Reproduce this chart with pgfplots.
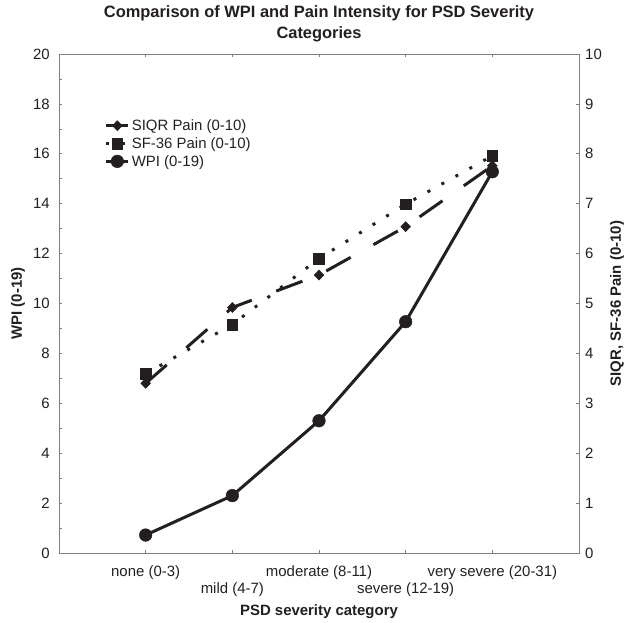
\documentclass[border=0pt]{standalone}
\usepackage{fontspec}
\setmainfont{Liberation Sans}
\usepackage{pgfplots}
\pgfplotsset{compat=1.18}
\definecolor{ink}{HTML}{231F20}
\definecolor{axisgray}{HTML}{808080}

\pgfplotsset{
  base/.style={
    scale only axis, width=520bp, height=499bp,
    xmin=0, xmax=6,
    axis line style={axisgray, line width=0.8pt},
    tick style={axisgray, line width=0.6pt},
    major tick length=3bp, minor tick length=3bp,
    ticklabel style={font=\fontsize{15}{17}\selectfont, text=ink},
    /pgf/number format/assume math mode=true,
  },
  wpi/.style={ink, line width=3bp, mark=*, mark size=6.3bp,
    mark options={solid, line width=0.5bp}},
  siqr/.style={ink, line width=3bp, dash pattern=on 28bp off 26bp,
    mark=diamond*, mark size=5bp,
    mark options={solid, line width=0.5bp, xscale=1.3}},
  sf/.style={ink, line width=3bp, dash pattern=on 3bp off 13bp,
    mark=square*, mark size=5.3bp,
    mark options={solid, line width=0.5bp}},
}

\begin{document}
\begin{tikzpicture}
% left axis: WPI
\begin{axis}[base,
  ymin=0, ymax=20,
  ytick={0,2,...,20}, minor ytick={1,3,...,19},
  ytick pos=left, xtick pos=both, tick align=inside,
  xtick={1,2,3,4,5},
  xticklabels={{\strut none (0-3)},{\strut\\\strut mild (4-7)},{\strut moderate (8-11)},{\strut\\\strut severe (12-19)},{\strut very severe (20-31)}},
  xticklabel style={align=center, anchor=north, inner sep=0pt, yshift=-11.5bp},
  yticklabel style={anchor=east, inner sep=0pt, xshift=-9bp},
  xlabel={PSD severity category},
  ylabel={WPI (0-19)},
  every axis x label/.style={at={(rel axis cs:0.5,0)}, anchor=center, yshift=-59bp,
    font=\bfseries\fontsize{15}{17}\selectfont, text=ink},
  every axis y label/.style={at={(rel axis cs:0,0.5)}, xshift=-41bp, rotate=90, anchor=center,
    font=\bfseries\fontsize{15}{17}\selectfont, text=ink},
  title={Comparison of WPI and Pain Intensity for PSD Severity\\Categories},
  every axis title/.style={at={(rel axis cs:0.5,1)}, anchor=south, yshift=11.6bp,
    inner sep=0pt, align=center, font=\bfseries\fontsize{16.5}{21}\selectfont, text=ink},
]
\addplot[wpi] coordinates {(1,0.72) (2,2.30) (3,5.30) (4,9.27) (5,15.28)};
\end{axis}

% right axis: SIQR and SF-36 pain
\begin{axis}[base,
  ymin=0, ymax=10, ytick={0,1,...,10},
  axis y line*=right, axis x line=none,
  y axis line style={-},
  ytick align=inside,
  yticklabel style={anchor=west, inner sep=0pt, xshift=6bp},
  ylabel={SIQR, SF-36 Pain (0-10)},
  every axis y label/.style={at={(rel axis cs:1,0.5)}, xshift=38bp, rotate=90, anchor=center,
    font=\bfseries\fontsize{15}{17}\selectfont, text=ink},
  legend style={at={(rel axis cs:0.082,0.877)}, anchor=north west, draw=none, fill=none,
    font=\fontsize{15}{17}\selectfont, text=ink, row sep=1.5bp,
    nodes={inner sep=2bp}},
  legend cell align=left,
  legend image code/.code={\draw[mark repeat=2, mark phase=2, #1]
    plot coordinates {(0bp,0bp) (11bp,0bp) (22bp,0bp)};},
]
\addplot[siqr] coordinates {(1,3.40) (2,4.92) (3,5.57) (4,6.54) (5,7.76)};
\addplot[sf] coordinates {(1,3.59) (2,4.58) (3,5.90) (4,6.99) (5,7.96)};
\addlegendimage{wpi}
\legend{SIQR Pain (0-10), SF-36 Pain (0-10), WPI (0-19)}
\end{axis}
\path (-59bp,-70bp) rectangle (569bp,553bp);
\end{tikzpicture}
\end{document}
